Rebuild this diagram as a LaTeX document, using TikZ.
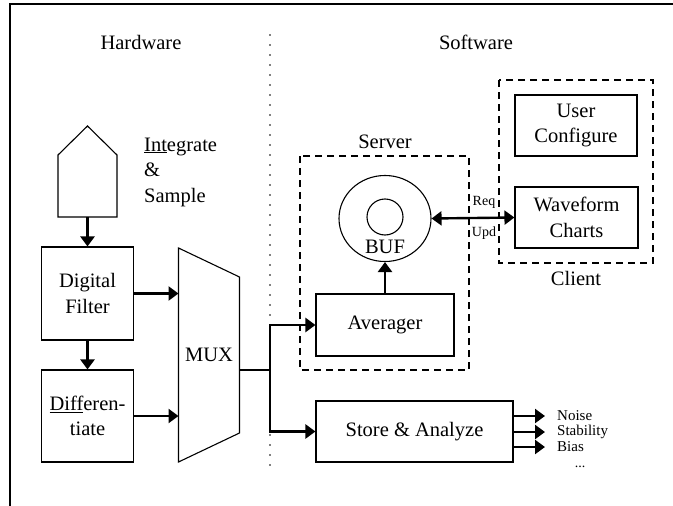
\documentclass[tikz,border=0pt]{standalone}
\usepackage{fontspec}
\setmainfont{Liberation Serif}
\usetikzlibrary{arrows.meta,shapes.geometric}

\begin{document}
\begin{tikzpicture}[x=1pt, y=-1pt, >={Triangle[length=10pt,width=14pt]},
  font=\fontsize{20.5}{25.5}\selectfont,
  blk/.style={draw, line width=1.1pt, align=center, inner sep=0pt},
  grp/.style={draw, line width=1.1pt, dash pattern=on 7pt off 5pt},
  arr/.style={->, line width=2.4pt},
  tag/.style={font=\fontsize{14}{16}\selectfont, inner sep=0pt},
  listitem/.style={font=\fontsize{15}{15}\selectfont, anchor=west, inner ysep=0pt, inner xsep=12pt}]

\useasboundingbox (0,0) rectangle (673,506);

%% frame (top and left edge only)
\draw[line width=2.2pt] (10,506) -- (10,4) -- (673,4);

%% ===================== Hardware side =====================
\node (hw) at (141,42) {Hardware};

% integrate & sample front end
\draw[line width=1.1pt] (58,217) -- (58,155) -- (87.5,126) -- (117,155) -- (117,217) -- cycle;
\coordinate (adc) at (87.5,217);
\node[anchor=west, align=left, inner sep=0pt] (intsmp) at (144,172)
  {\underline{Int}egrate\\\&\\Sample};

\node[blk, minimum width=91.5pt, minimum height=93pt] (filter) at (87.5,293.5) {Digital\\Filter};
\node[blk, minimum width=91.5pt, minimum height=92pt] (diff) at (87.5,416) {\underline{Diff}eren-\\tiate};

\draw[arr] (adc) -- (filter.north);
\draw[arr] (filter.south) -- (diff.north);

% multiplexer
\draw[line width=1.1pt] (178.5,248) -- (239.5,277) -- (239.5,433) -- (178.5,462) -- cycle;
\node (mux) at (209,355) {MUX};
\coordinate (muxin1) at (178.5,293.5);
\coordinate (muxin2) at (178.5,416);
\coordinate (muxout) at (239.5,370);
\coordinate (split) at (270,370);

\draw[arr] (filter.east) -- (muxin1);
\draw[arr] (diff.east) -- (muxin2);

%% divider
\draw[line width=1.8pt, dash pattern=on 0pt off 10pt, line cap=round] (270,35) -- (270,470);

%% ===================== Software side =====================
\node (sw) at (476,42) {Software};

% server
\draw[grp] (300,156) rectangle (469,370);
\node (server) at (385,142) {Server};
\node[draw, ellipse, line width=1.1pt, minimum width=92pt, minimum height=86pt, inner sep=0pt] (buf) at (385,218.5) {};
\node[draw, circle, line width=1.1pt, minimum size=36pt, inner sep=0pt] (bufin) at (385,217) {};
\node (buflbl) at (385,247) {BUF};
\node[blk, minimum width=138pt, minimum height=62pt] (avg) at (385,325) {Averager};
\draw[arr] (avg.north) -- (buf.south);

% client
\draw[grp] (499,80) rectangle (653,263);
\node (client) at (576,278) {Client};
\node[blk, minimum width=122pt, minimum height=61pt] (ucfg) at (576,125.5) {User\\Configure};
\node[blk, minimum width=123pt, minimum height=61pt] (wave) at (576.5,217.5) {Waveform\\Charts};

% request / update link
\draw[<->, line width=2.4pt] (buf.east) -- (wave.west);
\node[tag] (req) at (484,202) {Req};
\node[tag] (upd) at (484,233) {Upd};

% storage
\node[blk, minimum width=197pt, minimum height=61pt] (store) at (414.5,431.5) {Store \& Analyze};

\draw[line width=2.4pt] (muxout) -- (split);
\draw[arr] (split) |- (avg.west);
\draw[arr] (split) |- (store.west);

% analysis outputs
\foreach \name/\y/\txt in {noise/416/Noise, stab/432/Stability, bias/447/Bias}{
  \node[listitem] (\name) at (545,\y) {\txt};
  \draw[arr] (store.east |- \name.west) -- (\name.west);
}
\node[tag, anchor=base] (more) at (580,467) {...};

\end{tikzpicture}
\end{document}
